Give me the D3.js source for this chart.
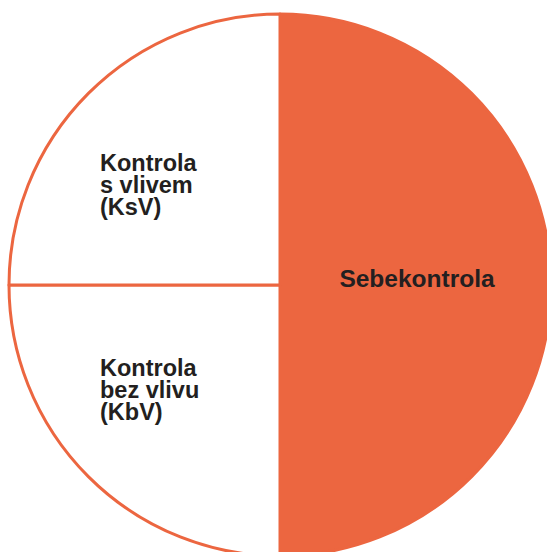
<!DOCTYPE html>
<html><head><meta charset="utf-8">
<script src="https://cdn.jsdelivr.net/npm/d3@7"></script>
<style>html,body{margin:0;padding:0;background:#fff;overflow:hidden}</style>
</head><body>
<svg id="c" width="547" height="552"></svg>
<script>
const categories = ["Sebekontrola", "Kontrola bez vlivu (KbV)", "Kontrola s vlivem (KsV)"];
const values = [50, 25, 25];
const labelLines = [["Sebekontrola"], ["Kontrola", "bez vlivu", "(KbV)"], ["Kontrola", "s vlivem", "(KsV)"]];

const orange = "#EC6640";
const fills = [orange, "#ffffff", "#ffffff"];
const cx = 280, cy = 285, r = 271;

const svg = d3.select("#c");
const g = svg.append("g").attr("transform", `translate(${cx},${cy})`);
const pie = d3.pie().sort(null).value(d => d)(values);
const arc = d3.arc().innerRadius(0).outerRadius(r);

g.selectAll("path").data(pie).join("path")
  .attr("d", arc)
  .attr("fill", (d, i) => fills[i])
  .attr("stroke", orange)
  .attr("stroke-width", 3)
  .attr("stroke-linejoin", "round");

// label positions (relative to centre)
const labelPos = [
  {x: 137, y: 2, anchor: "middle"},
  {x: -180, y: 91, anchor: "start"},
  {x: -180, y: -114, anchor: "start"}
];
const lh = 21.8;
labelLines.forEach((lines, i) => {
  const t = g.append("text")
    .attr("x", labelPos[i].x).attr("y", labelPos[i].y)
    .attr("text-anchor", labelPos[i].anchor)
    .attr("fill", "#231F20")
    .attr("font-family", "'Liberation Sans', Arial, Helvetica, sans-serif")
    .attr("font-weight", "bold")
    .attr("font-size", i === 0 ? 24.5 : 23.5);
  lines.forEach((l, j) => t.append("tspan").attr("x", labelPos[i].x).attr("y", labelPos[i].y + j * lh).text(l));
});
</script>
</body></html>
